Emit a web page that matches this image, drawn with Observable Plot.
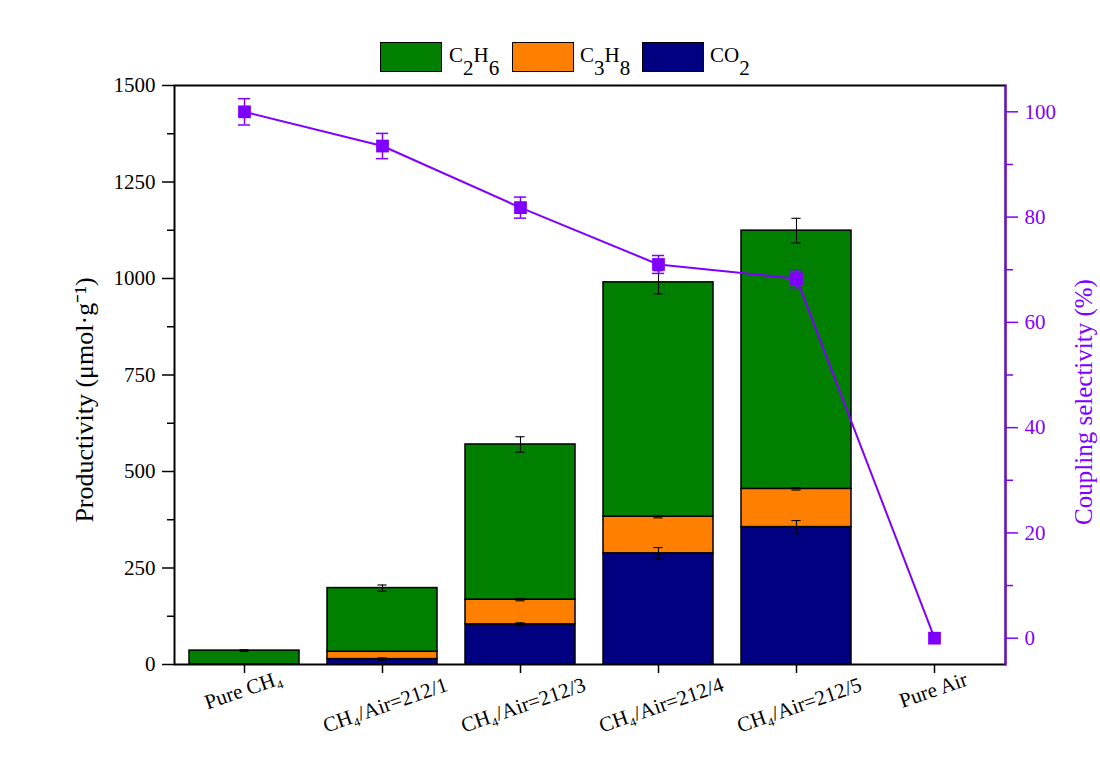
<!DOCTYPE html>
<html><head><meta charset="utf-8">
<script src="https://cdn.jsdelivr.net/npm/d3@7"></script>
<script src="https://cdn.jsdelivr.net/npm/@observablehq/plot@0.6"></script>
<style>
body{margin:0;background:#fff;font-family:"Liberation Serif","Times New Roman",serif;}
#legend{height:60px;position:relative;}
.sw{position:absolute;top:42px;width:60px;height:28px;border:1.5px solid #000;}
.lt{position:absolute;top:45px;font-size:21px;line-height:21px;color:#000;white-space:nowrap;}
.lt sub{font-size:21px;vertical-align:-13px;line-height:0;}
</style></head><body>
<div id="legend"></div><div id="chart"></div>
<script>
const categories = ["Pure CH4","CH4/Air=212/1","CH4/Air=212/3","CH4/Air=212/4","CH4/Air=212/5","Pure Air"];
const categoryLabels = ["Pure CH₄","CH₄/Air=212/1","CH₄/Air=212/3","CH₄/Air=212/4","CH₄/Air=212/5","Pure Air"];
const co2 = [0, 14, 104, 288, 356, 0];
const c3h8 = [0, 19, 64, 95, 99, 0];
const c2h6 = [36, 165, 402, 607, 669, 0];
const co2Err = [0, 3, 4, 15, 17, 0];
const c3h8Err = [0, 0, 3, 3, 3, 0];
const totalErr = [2, 8, 20, 30, 32, 0];
const selectivity = [100, 93.5, 81.8, 71.0, 68.3, 0];
const selectivityErr = [2.5, 2.4, 2.0, 1.7, 1.7, 0];
const seriesNames = ["C2H6", "C3H8", "CO2"];
const seriesLegend = ["C<sub>2</sub>H<sub>6</sub>", "C<sub>3</sub>H<sub>8</sub>", "CO<sub>2</sub>"];
const seriesColors = ["#007f00", "#ff8000", "#000080"];
const leftTicks = [0, 250, 500, 750, 1000, 1250, 1500];
const leftMinor = [125, 375, 625, 875, 1125, 1375];
const rightTicks = [0, 20, 40, 60, 80, 100];
const rightMinor = [10, 30, 50, 70, 90];
const leftDomain = [0, 1500];
const rightDomain = [-5, 105];
const purple = "#8000ff";
const serif = "'Liberation Serif', 'Times New Roman', serif";

// legend
const leg = document.getElementById("legend");
const swLeft = [380, 512, 642], txtLeft = [449, 580, 710];
seriesNames.forEach((s, i) => {
  const b = document.createElement("div");
  b.className = "sw"; b.style.left = swLeft[i] + "px"; b.style.background = seriesColors[i];
  leg.appendChild(b);
  const t = document.createElement("div");
  t.className = "lt"; t.style.left = txtLeft[i] + "px"; t.innerHTML = seriesLegend[i];
  leg.appendChild(t);
});

// data tables
const rows = [];
categories.forEach((c, i) => {
  [["CO2", co2[i]], ["C3H8", c3h8[i]], ["C2H6", c2h6[i]]].forEach(([s, v]) => {
    if (v > 0) rows.push({cat: c, series: s, value: v});
  });
});
const errs = [];
categories.forEach((c, i) => {
  const t1 = co2[i], t2 = co2[i] + c3h8[i], t3 = t2 + c2h6[i];
  if (co2Err[i] > 0) errs.push({cat: c, lo: t1 - co2Err[i], hi: t1 + co2Err[i]});
  if (c3h8Err[i] > 0) errs.push({cat: c, lo: t2 - c3h8Err[i], hi: t2 + c3h8Err[i]});
  if (totalErr[i] > 0) errs.push({cat: c, lo: t3 - totalErr[i], hi: t3 + totalErr[i]});
});
const toLeft = d3.scaleLinear().domain(rightDomain).range(leftDomain);
const sel = categories.map((c, i) => ({cat: c, s: toLeft(selectivity[i]),
  lo: toLeft(selectivity[i] - selectivityErr[i]), hi: toLeft(selectivity[i] + selectivityErr[i]), e: selectivityErr[i]}));
const selErr = sel.filter(d => d.e > 0);

const shortLabels = categories.filter((c, i) => categoryLabels[i].length < 10);
const longLabels = categories.filter((c, i) => categoryLabels[i].length >= 10);
const labelOf = c => categoryLabels[categories.indexOf(c)];

const bw = 831 * 0.8 / 6; // approx band width in px for cap insets
const capIn = (bw - 10) / 2, capInP = (bw - 13) / 2;

const chart = Plot.plot({
  width: 1100, height: 711,
  marginTop: 25, marginBottom: 107, marginLeft: 174, marginRight: 95,
  style: {fontFamily: serif, fontSize: "21px", background: "transparent", color: "#000"},
  x: {domain: categories, type: "band", paddingInner: 0.2, paddingOuter: 0.1, axis: null},
  y: {domain: leftDomain, axis: null},
  color: {domain: seriesNames, range: seriesColors},
  marks: [
    Plot.barY(rows, {x: "cat", y: "value", fill: "series", stroke: "#000", strokeWidth: 1.5}),
    Plot.ruleX(errs, {x: "cat", y1: "lo", y2: "hi", stroke: "#000", strokeWidth: 1.1}),
    Plot.tickY(errs, {x: "cat", y: "lo", insetLeft: capIn, insetRight: capIn, stroke: "#000", strokeWidth: 1.1}),
    Plot.tickY(errs, {x: "cat", y: "hi", insetLeft: capIn, insetRight: capIn, stroke: "#000", strokeWidth: 1.1}),
    Plot.line(sel, {x: "cat", y: "s", stroke: purple, strokeWidth: 2}),
    Plot.ruleX(selErr, {x: "cat", y1: "lo", y2: "hi", stroke: purple, strokeWidth: 1.5}),
    Plot.tickY(selErr, {x: "cat", y: "lo", insetLeft: capInP, insetRight: capInP, stroke: purple, strokeWidth: 1.5}),
    Plot.tickY(selErr, {x: "cat", y: "hi", insetLeft: capInP, insetRight: capInP, stroke: purple, strokeWidth: 1.5}),
    Plot.dot(sel, {x: "cat", y: "s", symbol: "square", r: 7.2, fill: purple, stroke: "none"}),
    Plot.frame({stroke: "#000", strokeWidth: 2}),
    Plot.frame({anchor: "right", stroke: purple, strokeWidth: 2}),
    Plot.axisY({ticks: leftTicks, tickFormat: d3.format("d"), tickSize: 12, tickPadding: 7, fontSize: 21,
      fontFamily: serif, label: null, strokeWidth: 1.5}),
    Plot.axisY({ticks: leftMinor, tickSize: 7, tickFormat: () => "", label: null, strokeWidth: 1.5}),
    Plot.axisY({anchor: "right", ticks: rightTicks.map(toLeft), tickFormat: d => (Math.round(toLeft.invert(d)) || 0),
      tickSize: 12, tickPadding: 7, fontSize: 21, fontFamily: serif, label: null, color: purple, stroke: purple, fill: purple, strokeWidth: 1.5}),
    Plot.axisY({anchor: "right", ticks: rightMinor.map(toLeft), tickFormat: () => "", tickSize: 7, label: null,
      stroke: purple, strokeWidth: 1.5}),
    Plot.axisX({tickSize: 9, tickFormat: () => "", label: null, strokeWidth: 1.5}),
    Plot.text(shortLabels, {x: d => d, text: labelOf, frameAnchor: "bottom", dx: 1, dy: 32,
      rotate: -19, fontSize: 21, fontFamily: serif, textAnchor: "middle", fill: "#000"}),
    Plot.text(longLabels, {x: d => d, text: labelOf, frameAnchor: "bottom", dx: 5, dy: 47,
      rotate: -19, fontSize: 21, fontFamily: serif, textAnchor: "middle", fill: "#000"}),
    Plot.text(["Productivity (μmol·g⁻¹)"], {text: d => d, frameAnchor: "left", dx: -90, dy: 25, rotate: -90,
      textAnchor: "middle", fontSize: 26, fontFamily: serif, fill: "#000"}),
    Plot.text(["Coupling selectivity (%)"], {text: d => d, frameAnchor: "right", dx: 78, dy: 27, rotate: -90,
      textAnchor: "middle", fontSize: 25, fontFamily: serif, fill: purple})
  ]
});
document.getElementById("chart").appendChild(chart);
</script>
</body></html>
